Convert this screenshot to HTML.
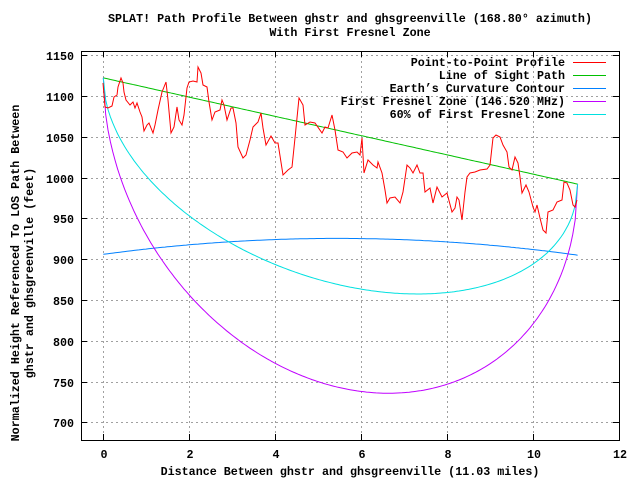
<!DOCTYPE html>
<html><head><meta charset="utf-8"><style>
html,body{margin:0;padding:0;background:#fff;}
svg{display:block;}
text{font-family:"Liberation Mono","DejaVu Sans Mono",monospace;font-weight:bold;font-size:11.7px;fill:#000;}
</style></head><body>
<svg id="s" width="640" height="480" viewBox="0 0 640 480" xmlns="http://www.w3.org/2000/svg">
<rect width="640" height="480" fill="#fff"/>
<g stroke="#a0a0a0" stroke-width="1" stroke-dasharray="2,3" fill="none">
<path d="M103.5 51V440M189.5 51V440M275.5 51V440M361.5 51V440M447.5 51V440M533.5 51V440"/>
<path d="M81 55.5H619M81 96.5H619M81 137.5H619M81 178.5H619M81 218.5H619M81 259.5H619M81 300.5H619M81 341.5H619M81 382.5H619M81 422.5H619"/>
</g>
<g stroke="#000" stroke-width="1" fill="none">
<path d="M103.5 440v-6M189.5 440v-6M275.5 440v-6M361.5 440v-6M447.5 440v-6M533.5 440v-6M619.5 440v-6"/>
<path d="M103.5 51v6M189.5 51v6M275.5 51v6M361.5 51v6M447.5 51v6M533.5 51v6"/>
<path d="M81 55.5h6M81 96.5h6M81 137.5h6M81 178.5h6M81 218.5h6M81 259.5h6M81 300.5h6M81 341.5h6M81 382.5h6M81 422.5h6"/>
<path d="M619 55.5h-6M619 96.5h-6M619 137.5h-6M619 178.5h-6M619 218.5h-6M619 259.5h-6M619 300.5h-6M619 341.5h-6M619 382.5h-6M619 422.5h-6"/>
</g>
<g text-anchor="end">
<text x="74" y="60">1150</text><text x="74" y="101">1100</text><text x="74" y="142">1050</text>
<text x="74" y="183">1000</text><text x="74" y="223">950</text><text x="74" y="264">900</text>
<text x="74" y="305">850</text><text x="74" y="346">800</text><text x="74" y="387">750</text>
<text x="74" y="427">700</text>
</g>
<g text-anchor="middle">
<text x="104" y="458">0</text><text x="190" y="458">2</text><text x="276" y="458">4</text>
<text x="362" y="458">6</text><text x="448" y="458">8</text><text x="534" y="458">10</text><text x="620" y="458">12</text>
<text x="350" y="475">Distance Between ghstr and ghsgreenville (11.03 miles)</text>
<text x="350" y="22">SPLAT! Path Profile Between ghstr and ghsgreenville (168.80° azimuth)</text>
<text x="350" y="36">With First Fresnel Zone</text>
<text transform="translate(19,273) rotate(-90)">Normalized Height Referenced To LOS Path Between</text>
<text transform="translate(33,273) rotate(-90)">ghstr and ghsgreenville (feet)</text>
</g>
<g id="curves" fill="none" stroke-width="1"></g>
<polyline fill="none" stroke="#ff0000" stroke-width="1" points="103,83 105,107 108,108 112,106 114,97 117,95 118,87 121,78 123,83 124,92 126,100 130,105 133,102 135,108 137,103 140,112 142,117 144,131 147,125 149,123 153,133 155,125 158,110 162,92 166,82 168,100 171,133 174,127 177,107 179,120 182,125 184,115 187,88 189,82 193,81 197,82 198,67 201,73 203,85 207,87 209,102 212,120 215,112 220,110 222,100 224,105 227,120 231,108 233,108 236,123 238,147 243,158 246,155 250,140 253,127 258,122 261,113 263,128 266,145 271,136 275,143 278,143 283,175 288,170 292,167 295,138 299,98 303,105 305,125 310,122 315,123 322,133 325,127 328,128 332,115 335,130 338,150 343,152 347,158 352,153 357,152 360,155 362,138 364,173 368,160 373,165 377,168 378,162 382,173 385,190 387,203 390,198 395,197 400,203 403,192 407,165 410,168 413,173 417,165 420,173 423,173 425,192 430,188 433,203 437,187 442,197 447,193 452,212 455,208 457,197 459,200 462,220 465,192 467,177 470,173 475,172 480,170 487,169 490,165 493,138 496,135 500,137 503,145 507,152 509,167 512,170 515,157 518,163 520,177 522,193 526,185 529,192 533,207 535,212 537,205 540,218 543,230 546,233 548,212 553,210 557,202 562,200 564,182 567,183 570,190 573,205 575,207 577,200"/>
<g text-anchor="end">
<text x="565" y="66">Point-to-Point Profile</text>
<text x="565" y="79">Line of Sight Path</text>
<text x="565" y="92">Earth’s Curvature Contour</text>
<text x="565" y="105">First Fresnel Zone (146.520 MHz)</text>
<text x="565" y="118">60% of First Fresnel Zone</text>
</g>
<g stroke-width="1">
<path d="M573 62.5h33" stroke="#ff0000"/>
<path d="M573 75.5h33" stroke="#00c000"/>
<path d="M573 88.5h33" stroke="#0080ff"/>
<path d="M573 101.5h33" stroke="#c000ff"/>
<path d="M573 114.5h33" stroke="#00e0e0"/>
</g>
<rect x="81.5" y="51.5" width="538" height="389" fill="none" stroke="#000" stroke-width="1"/>
</svg>
<script>
(function(){
var D=11.03;
function X(d){return 103.3+43*d;}
function Y(v){return 55+(1150-v)*0.817;}
function los(d){return 1122-130*d/D;}
var g=document.getElementById('curves');
function line(f,col){
 var p=[];for(var i=0;i<=200;i++){var d=D*i/200;p.push(X(d).toFixed(1)+','+Y(f(d)).toFixed(1));}
 var e=document.createElementNS('http://www.w3.org/2000/svg','polyline');
 e.setAttribute('points',p.join(' '));e.setAttribute('stroke',col);g.appendChild(e);
}
line(los,'#00c000');
line(function(d){return 905+1+ (80*d*(D-d)/(D*D))-d*0.09;},'#0080ff');
line(function(d){return los(d)-57*Math.sqrt(d*(D-d));},'#c000ff');
line(function(d){return los(d)-34.2*Math.sqrt(d*(D-d));},'#00e0e0');
})();
</script>
</body></html>
